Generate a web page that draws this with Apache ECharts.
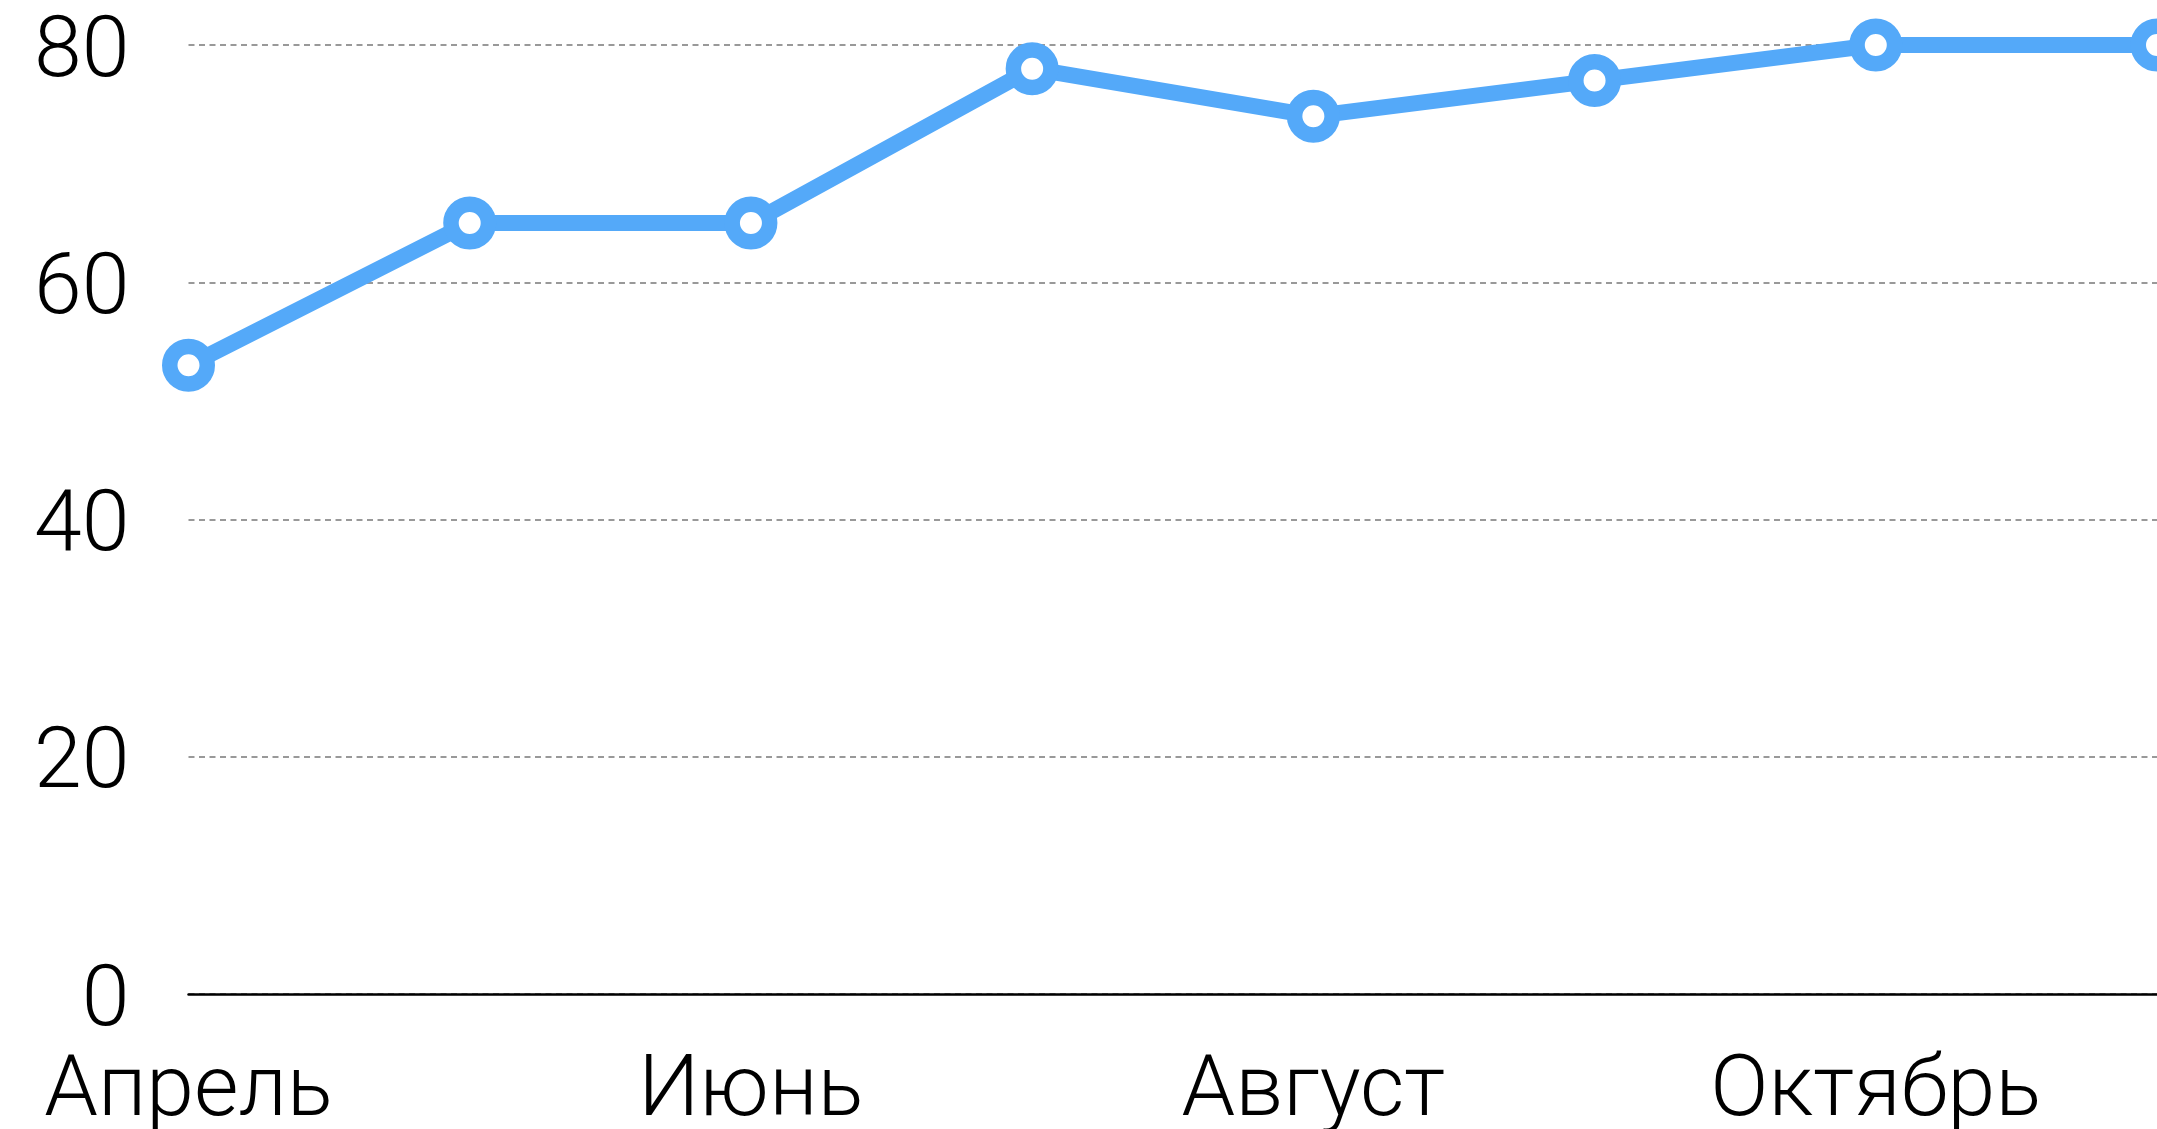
<!DOCTYPE html>
<html>
<head>
<meta charset="utf-8">
<script src="https://cdn.jsdelivr.net/npm/echarts@6/dist/echarts.min.js"></script>
<style>
html,body{margin:0;padding:0;background:#fff;}
#chart{width:2157px;height:1129px;}
</style>
</head>
<body>
<div id="chart"></div>
<script>
const categories = ['Апрель','Май','Июнь','Июль','Август','Сентябрь','Октябрь','Ноябрь'];
const values = [53, 65, 65, 78, 74, 77, 80, 80];
const yTicks = [0, 20, 40, 60, 80];

const chart = echarts.init(document.getElementById('chart'), null, {renderer:'canvas'});
const fontFamily = '"Helvetica Neue", Roboto, "Liberation Sans", sans-serif';
chart.setOption({
  animation: false,
  backgroundColor: '#ffffff',
  grid: {left: 188.5, right: 0, top: 45, bottom: 135, containLabel: false, outerBoundsMode: 'none'},
  xAxis: {
    type: 'category',
    data: categories,
    boundaryGap: false,
    axisLine: {show: true, lineStyle: {color: '#000', width: 2.5}},
    axisTick: {show: false},
    axisLabel: {interval: 1, margin: 56, color: '#000', fontSize: 86, fontWeight: 300, fontFamily: fontFamily},
    splitLine: {show: false}
  },
  yAxis: {
    type: 'value',
    min: yTicks[0],
    max: yTicks[yTicks.length-1],
    interval: 20,
    axisLine: {show: false},
    axisTick: {show: false},
    axisLabel: {margin: 59, color: '#000', fontSize: 86, fontWeight: 300, fontFamily: fontFamily, verticalAlign: 'top', lineHeight: 18},
    splitLine: {show: true, lineStyle: {color: '#999', width: 2, type: [6, 4.5]}}
  },
  series: [{
    type: 'line',
    data: values,
    symbol: 'circle',
    symbolSize: 37.5,
    clip: false,
    lineStyle: {color: '#54A9F9', width: 16},
    itemStyle: {color: '#ffffff', borderColor: '#54A9F9', borderWidth: 15.5},
    z: 3
  }]
});
</script>
</body>
</html>
